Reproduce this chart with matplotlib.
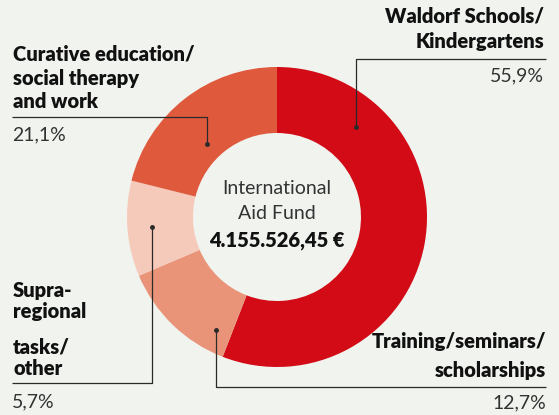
import matplotlib.pyplot as plt

# shares as drawn (the 4th slice is drawn as the remainder)
categories = ['Waldorf Schools/\nKindergartens', 'Training/seminars/\nscholarships',
              'Supra-\nregional', 'tasks/\nother', 'Curative education/\nsocial therapy\nand work']
shares = [55.9, 12.7, 10.3, 21.1]
pct_labels = ['55,9%', '12,7%', '5,7%', '21,1%']
colors = ['#d20b16', '#e99478', '#f6cabb', '#df593d']

total_label = '4.155.526,45 €'

BG = '#f0f3ee'
W, H = 559, 415

fig = plt.figure(figsize=(W / 100, H / 100), dpi=100, facecolor=BG)
ax = fig.add_axes([0, 0, 1, 1])
ax.set_facecolor(BG)

cx, cy, R = 277, H - 217, 150
ax.pie(shares, colors=colors, startangle=90, counterclock=False,
       center=(cx, cy), radius=R, wedgeprops=dict(width=66, linewidth=0))

ax.set_xlim(0, W)
ax.set_ylim(0, H)
ax.set_aspect('equal')
ax.axis('off')

font = 'Lato'
dark = '#111111'
lc = '#2a2a2a'

# centre text
ax.text(cx, H - 189, 'International', ha='center', va='center', fontsize=14,
        family=font, color='#333333')
ax.text(cx, H - 214, 'Aid Fund', ha='center', va='center', fontsize=14,
        family=font, color='#333333')
ax.text(cx, H - 241, total_label, ha='center', va='center', fontsize=14.5,
        family=font, color=dark, fontweight='heavy')


def leader(pts):
    xs = [p[0] for p in pts]
    ys = [H - p[1] for p in pts]
    ax.plot(xs, ys, color=lc, lw=0.9, solid_capstyle='butt')
    ax.plot(xs[-1], ys[-1], 'o', color=lc, ms=2.5)


bold = dict(family=font, fontweight='heavy', fontsize=14.5, color=dark, linespacing=1.3)
light = dict(family=font, fontsize=14, color='#333333')

# Waldorf
ax.text(544, H - 29, categories[0], ha='right', va='center', **{**bold, 'linespacing': 1.4})
ax.text(544, H - 76, pct_labels[0], ha='right', va='center', **light)
leader([(546, 59), (356, 59), (356, 127)])

# Curative
ax.text(13, H - 78, categories[4], ha='left', va='center', **bold)
ax.text(12, H - 135, pct_labels[3], ha='left', va='center', **light)
leader([(12, 117), (207, 117), (207, 144)])

# Supra-regional
ax.text(13, H - 301, categories[2], ha='left', va='center', **{**bold, 'linespacing': 1.15})
ax.text(13, H - 358, categories[3], ha='left', va='center', **{**bold, 'linespacing': 1.15})
ax.text(12, H - 402, pct_labels[2], ha='left', va='center', **light)
leader([(12, 383), (152, 383), (152, 227)])

# Training
ax.text(546, H - 356, categories[1], ha='right', va='center', **{**bold, 'linespacing': 1.65})
ax.text(546, H - 403, pct_labels[1], ha='right', va='center', **light)
leader([(546, 387), (216, 387), (216, 330)])

plt.savefig('out.png', dpi=100, facecolor=BG)
